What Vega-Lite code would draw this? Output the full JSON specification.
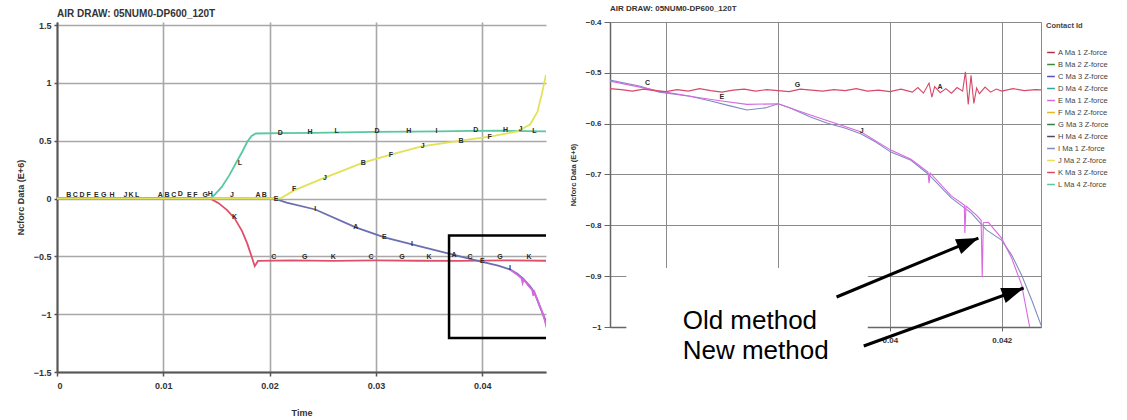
{
  "$schema": "https://vega.github.io/schema/vega-lite/v6.json",
  "background": "white",
  "padding": {"left": 16, "top": 4, "right": 0, "bottom": 0},
  "autosize": {"type": "pad"},
  "spacing": 22,
  "datasets": {
    "left": [
      {"t": 0, "v": 0, "s": "L Ma 4 Z-force"}, {"t": 0.0144, "v": 0, "s": "L Ma 4 Z-force"}, {"t": 0.0148, "v": 0.03, "s": "L Ma 4 Z-force"}, {"t": 0.0155, "v": 0.1, "s": "L Ma 4 Z-force"}, {"t": 0.0162, "v": 0.2, "s": "L Ma 4 Z-force"}, {"t": 0.0168, "v": 0.3, "s": "L Ma 4 Z-force"}, {"t": 0.0174, "v": 0.4, "s": "L Ma 4 Z-force"}, {"t": 0.0179, "v": 0.49, "s": "L Ma 4 Z-force"}, {"t": 0.0183, "v": 0.54, "s": "L Ma 4 Z-force"}, {"t": 0.0187, "v": 0.562, "s": "L Ma 4 Z-force"}, {"t": 0.021, "v": 0.566, "s": "L Ma 4 Z-force"}, {"t": 0.024, "v": 0.568, "s": "L Ma 4 Z-force"}, {"t": 0.027, "v": 0.572, "s": "L Ma 4 Z-force"}, {"t": 0.03, "v": 0.576, "s": "L Ma 4 Z-force"}, {"t": 0.033, "v": 0.578, "s": "L Ma 4 Z-force"}, {"t": 0.036, "v": 0.58, "s": "L Ma 4 Z-force"}, {"t": 0.039, "v": 0.584, "s": "L Ma 4 Z-force"}, {"t": 0.042, "v": 0.586, "s": "L Ma 4 Z-force"}, {"t": 0.044, "v": 0.582, "s": "L Ma 4 Z-force"}, {"t": 0.046, "v": 0.58, "s": "L Ma 4 Z-force"},
      {"t": 0, "v": 0, "s": "K Ma 3 Z-force"}, {"t": 0.0144, "v": 0, "s": "K Ma 3 Z-force"}, {"t": 0.0152, "v": -0.04, "s": "K Ma 3 Z-force"}, {"t": 0.016, "v": -0.1, "s": "K Ma 3 Z-force"}, {"t": 0.0167, "v": -0.17, "s": "K Ma 3 Z-force"}, {"t": 0.0174, "v": -0.28, "s": "K Ma 3 Z-force"}, {"t": 0.0179, "v": -0.39, "s": "K Ma 3 Z-force"}, {"t": 0.0183, "v": -0.5, "s": "K Ma 3 Z-force"}, {"t": 0.0186, "v": -0.585, "s": "K Ma 3 Z-force"}, {"t": 0.0189, "v": -0.54, "s": "K Ma 3 Z-force"}, {"t": 0.022, "v": -0.535, "s": "K Ma 3 Z-force"}, {"t": 0.026, "v": -0.54, "s": "K Ma 3 Z-force"}, {"t": 0.03, "v": -0.535, "s": "K Ma 3 Z-force"}, {"t": 0.034, "v": -0.538, "s": "K Ma 3 Z-force"}, {"t": 0.038, "v": -0.54, "s": "K Ma 3 Z-force"}, {"t": 0.042, "v": -0.535, "s": "K Ma 3 Z-force"}, {"t": 0.046, "v": -0.538, "s": "K Ma 3 Z-force"},
      {"t": 0, "v": 0, "s": "I Ma 1 Z-force"}, {"t": 0.0204, "v": 0, "s": "I Ma 1 Z-force"}, {"t": 0.0216, "v": -0.035, "s": "I Ma 1 Z-force"}, {"t": 0.0243, "v": -0.095, "s": "I Ma 1 Z-force"}, {"t": 0.0281, "v": -0.25, "s": "I Ma 1 Z-force"}, {"t": 0.0308, "v": -0.336, "s": "I Ma 1 Z-force"}, {"t": 0.0334, "v": -0.397, "s": "I Ma 1 Z-force"}, {"t": 0.0364, "v": -0.466, "s": "I Ma 1 Z-force"}, {"t": 0.0398, "v": -0.543, "s": "I Ma 1 Z-force"}, {"t": 0.0415, "v": -0.58, "s": "I Ma 1 Z-force"}, {"t": 0.0426, "v": -0.612, "s": "I Ma 1 Z-force"}, {"t": 0.0433, "v": -0.65, "s": "I Ma 1 Z-force"}, {"t": 0.0439, "v": -0.698, "s": "I Ma 1 Z-force"}, {"t": 0.0445, "v": -0.76, "s": "I Ma 1 Z-force"}, {"t": 0.0449, "v": -0.81, "s": "I Ma 1 Z-force"}, {"t": 0.0454, "v": -0.93, "s": "I Ma 1 Z-force"}, {"t": 0.0459, "v": -1.04, "s": "I Ma 1 Z-force"}, {"t": 0.0462, "v": -1.15, "s": "I Ma 1 Z-force"},
      {"t": 0.0426, "v": -0.615, "s": "E Ma 1 Z-force"}, {"t": 0.0433, "v": -0.66, "s": "E Ma 1 Z-force"}, {"t": 0.0437, "v": -0.69, "s": "E Ma 1 Z-force"}, {"t": 0.0438, "v": -0.73, "s": "E Ma 1 Z-force"}, {"t": 0.0439, "v": -0.7, "s": "E Ma 1 Z-force"}, {"t": 0.0444, "v": -0.76, "s": "E Ma 1 Z-force"}, {"t": 0.0447, "v": -0.79, "s": "E Ma 1 Z-force"}, {"t": 0.0448, "v": -0.84, "s": "E Ma 1 Z-force"}, {"t": 0.0449, "v": -0.81, "s": "E Ma 1 Z-force"}, {"t": 0.0453, "v": -0.9, "s": "E Ma 1 Z-force"}, {"t": 0.0456, "v": -0.97, "s": "E Ma 1 Z-force"}, {"t": 0.0459, "v": -1.06, "s": "E Ma 1 Z-force"}, {"t": 0.0462, "v": -1.17, "s": "E Ma 1 Z-force"},
      {"t": 0, "v": 0, "s": "J Ma 2 Z-force"}, {"t": 0.021, "v": 0, "s": "J Ma 2 Z-force"}, {"t": 0.0223, "v": 0.07, "s": "J Ma 2 Z-force"}, {"t": 0.0252, "v": 0.18, "s": "J Ma 2 Z-force"}, {"t": 0.0288, "v": 0.31, "s": "J Ma 2 Z-force"}, {"t": 0.0314, "v": 0.38, "s": "J Ma 2 Z-force"}, {"t": 0.0343, "v": 0.45, "s": "J Ma 2 Z-force"}, {"t": 0.038, "v": 0.5, "s": "J Ma 2 Z-force"}, {"t": 0.0407, "v": 0.535, "s": "J Ma 2 Z-force"}, {"t": 0.0433, "v": 0.58, "s": "J Ma 2 Z-force"}, {"t": 0.0445, "v": 0.64, "s": "J Ma 2 Z-force"}, {"t": 0.0452, "v": 0.75, "s": "J Ma 2 Z-force"}, {"t": 0.0456, "v": 0.9, "s": "J Ma 2 Z-force"}, {"t": 0.046, "v": 1.07, "s": "J Ma 2 Z-force"}
    ],
    "leftlab": [
      {"t": 0.0011, "v": 0.026, "c": "B"}, {"t": 0.00172, "v": 0.026, "c": "C"}, {"t": 0.00235, "v": 0.026, "c": "D"}, {"t": 0.00298, "v": 0.026, "c": "F"}, {"t": 0.0037, "v": 0.026, "c": "E"}, {"t": 0.00439, "v": 0.026, "c": "G"}, {"t": 0.00517, "v": 0.026, "c": "H"},
      {"t": 0.00643, "v": 0.026, "c": "J"}, {"t": 0.00696, "v": 0.026, "c": "K"}, {"t": 0.00753, "v": 0.026, "c": "L"},
      {"t": 0.00972, "v": 0.026, "c": "A"}, {"t": 0.01035, "v": 0.026, "c": "B"}, {"t": 0.01098, "v": 0.026, "c": "C"}, {"t": 0.0116, "v": 0.04, "c": "D"}, {"t": 0.01245, "v": 0.026, "c": "E"}, {"t": 0.01301, "v": 0.026, "c": "F"}, {"t": 0.01395, "v": 0.026, "c": "G"}, {"t": 0.01442, "v": 0.04, "c": "H"},
      {"t": 0.01646, "v": 0.026, "c": "J"}, {"t": 0.01891, "v": 0.026, "c": "A"}, {"t": 0.0195, "v": 0.026, "c": "B"}, {"t": 0.0206, "v": 0.0, "c": "E"},
      {"t": 0.0172, "v": 0.31, "c": "L"},
      {"t": 0.021, "v": 0.57, "c": "D"}, {"t": 0.0238, "v": 0.572, "c": "H"}, {"t": 0.0263, "v": 0.58, "c": "L"}, {"t": 0.0301, "v": 0.585, "c": "D"}, {"t": 0.0331, "v": 0.585, "c": "H"}, {"t": 0.0357, "v": 0.585, "c": "I"}, {"t": 0.0394, "v": 0.59, "c": "D"}, {"t": 0.0422, "v": 0.59, "c": "H"}, {"t": 0.0436, "v": 0.6, "c": "J"}, {"t": 0.0449, "v": 0.58, "c": "L"},
      {"t": 0.0223, "v": 0.085, "c": "F"}, {"t": 0.0252, "v": 0.18, "c": "J"}, {"t": 0.0288, "v": 0.31, "c": "B"}, {"t": 0.0314, "v": 0.38, "c": "F"}, {"t": 0.0344, "v": 0.45, "c": "J"}, {"t": 0.038, "v": 0.5, "c": "B"}, {"t": 0.0407, "v": 0.535, "c": "F"},
      {"t": 0.0243, "v": -0.095, "c": "I"}, {"t": 0.0281, "v": -0.25, "c": "A"}, {"t": 0.0308, "v": -0.336, "c": "E"}, {"t": 0.0334, "v": -0.397, "c": "I"}, {"t": 0.0426, "v": -0.6, "c": "I"},
      {"t": 0.0167, "v": -0.164, "c": "K"}, {"t": 0.0204, "v": -0.51, "c": "C"}, {"t": 0.0233, "v": -0.51, "c": "G"}, {"t": 0.026, "v": -0.51, "c": "K"}, {"t": 0.02954, "v": -0.51, "c": "C"}, {"t": 0.03246, "v": -0.51, "c": "G"}, {"t": 0.035, "v": -0.51, "c": "K"}, {"t": 0.03735, "v": -0.49, "c": "A"}, {"t": 0.03885, "v": -0.51, "c": "C"}, {"t": 0.04, "v": -0.54, "c": "E"}, {"t": 0.04167, "v": -0.51, "c": "G"}, {"t": 0.0444, "v": -0.51, "c": "K"}
    ],
    "leftbox": [{"t1": 0.03688, "t2": 0.05, "v1": -0.319, "v2": -1.207}],
    "right": [
      {"t": 0.03499, "v": -0.514, "s": "I Ma 1 Z-force"}, {"t": 0.035526, "v": -0.526, "s": "I Ma 1 Z-force"}, {"t": 0.035885, "v": -0.538, "s": "I Ma 1 Z-force"}, {"t": 0.036424, "v": -0.546, "s": "I Ma 1 Z-force"}, {"t": 0.036783, "v": -0.555, "s": "I Ma 1 Z-force"}, {"t": 0.037143, "v": -0.565, "s": "I Ma 1 Z-force"}, {"t": 0.037448, "v": -0.573, "s": "I Ma 1 Z-force"}, {"t": 0.037772, "v": -0.569, "s": "I Ma 1 Z-force"}, {"t": 0.038005, "v": -0.561, "s": "I Ma 1 Z-force"}, {"t": 0.038221, "v": -0.569, "s": "I Ma 1 Z-force"}, {"t": 0.03858, "v": -0.587, "s": "I Ma 1 Z-force"}, {"t": 0.038886, "v": -0.599, "s": "I Ma 1 Z-force"}, {"t": 0.039209, "v": -0.609, "s": "I Ma 1 Z-force"}, {"t": 0.039479, "v": -0.62, "s": "I Ma 1 Z-force"}, {"t": 0.039748, "v": -0.636, "s": "I Ma 1 Z-force"}, {"t": 0.040018, "v": -0.656, "s": "I Ma 1 Z-force"}, {"t": 0.040377, "v": -0.672, "s": "I Ma 1 Z-force"}, {"t": 0.040683, "v": -0.699, "s": "I Ma 1 Z-force"}, {"t": 0.041096, "v": -0.746, "s": "I Ma 1 Z-force"}, {"t": 0.041456, "v": -0.776, "s": "I Ma 1 Z-force"}, {"t": 0.041725, "v": -0.809, "s": "I Ma 1 Z-force"}, {"t": 0.041995, "v": -0.829, "s": "I Ma 1 Z-force"}, {"t": 0.042174, "v": -0.858, "s": "I Ma 1 Z-force"}, {"t": 0.042354, "v": -0.898, "s": "I Ma 1 Z-force"}, {"t": 0.042534, "v": -0.947, "s": "I Ma 1 Z-force"}, {"t": 0.042713, "v": -1.0, "s": "I Ma 1 Z-force"}, {"t": 0.0428, "v": -1.03, "s": "I Ma 1 Z-force"},
      {"t": 0.03499, "v": -0.516, "s": "E Ma 1 Z-force"}, {"t": 0.035885, "v": -0.536, "s": "E Ma 1 Z-force"}, {"t": 0.036604, "v": -0.549, "s": "E Ma 1 Z-force"}, {"t": 0.036963, "v": -0.555, "s": "E Ma 1 Z-force"}, {"t": 0.037448, "v": -0.562, "s": "E Ma 1 Z-force"}, {"t": 0.038005, "v": -0.561, "s": "E Ma 1 Z-force"}, {"t": 0.03858, "v": -0.583, "s": "E Ma 1 Z-force"}, {"t": 0.039479, "v": -0.616, "s": "E Ma 1 Z-force"}, {"t": 0.040018, "v": -0.652, "s": "E Ma 1 Z-force"}, {"t": 0.040377, "v": -0.67, "s": "E Ma 1 Z-force"}, {"t": 0.04068, "v": -0.695, "s": "E Ma 1 Z-force"}, {"t": 0.0407, "v": -0.717, "s": "E Ma 1 Z-force"}, {"t": 0.04072, "v": -0.697, "s": "E Ma 1 Z-force"}, {"t": 0.041096, "v": -0.742, "s": "E Ma 1 Z-force"}, {"t": 0.04133, "v": -0.76, "s": "E Ma 1 Z-force"}, {"t": 0.04134, "v": -0.815, "s": "E Ma 1 Z-force"}, {"t": 0.04136, "v": -0.762, "s": "E Ma 1 Z-force"}, {"t": 0.041545, "v": -0.78, "s": "E Ma 1 Z-force"}, {"t": 0.04163, "v": -0.79, "s": "E Ma 1 Z-force"}, {"t": 0.04165, "v": -0.902, "s": "E Ma 1 Z-force"}, {"t": 0.04167, "v": -0.795, "s": "E Ma 1 Z-force"}, {"t": 0.04176, "v": -0.794, "s": "E Ma 1 Z-force"}, {"t": 0.041995, "v": -0.825, "s": "E Ma 1 Z-force"}, {"t": 0.042174, "v": -0.864, "s": "E Ma 1 Z-force"}, {"t": 0.042354, "v": -0.917, "s": "E Ma 1 Z-force"}, {"t": 0.042498, "v": -1.0, "s": "E Ma 1 Z-force"}, {"t": 0.0426, "v": -1.05, "s": "E Ma 1 Z-force"},
      {"t": 0.035, "v": -0.531, "s": "K Ma 3 Z-force"}, {"t": 0.0352, "v": -0.533, "s": "K Ma 3 Z-force"}, {"t": 0.0354, "v": -0.536, "s": "K Ma 3 Z-force"}, {"t": 0.0356, "v": -0.532, "s": "K Ma 3 Z-force"}, {"t": 0.0358, "v": -0.535, "s": "K Ma 3 Z-force"}, {"t": 0.036, "v": -0.537, "s": "K Ma 3 Z-force"}, {"t": 0.0362, "v": -0.533, "s": "K Ma 3 Z-force"}, {"t": 0.0364, "v": -0.536, "s": "K Ma 3 Z-force"}, {"t": 0.0366, "v": -0.531, "s": "K Ma 3 Z-force"}, {"t": 0.0368, "v": -0.535, "s": "K Ma 3 Z-force"}, {"t": 0.037, "v": -0.538, "s": "K Ma 3 Z-force"}, {"t": 0.0372, "v": -0.534, "s": "K Ma 3 Z-force"}, {"t": 0.0374, "v": -0.532, "s": "K Ma 3 Z-force"}, {"t": 0.0376, "v": -0.536, "s": "K Ma 3 Z-force"}, {"t": 0.0378, "v": -0.533, "s": "K Ma 3 Z-force"}, {"t": 0.038, "v": -0.535, "s": "K Ma 3 Z-force"}, {"t": 0.0382, "v": -0.537, "s": "K Ma 3 Z-force"}, {"t": 0.0384, "v": -0.532, "s": "K Ma 3 Z-force"}, {"t": 0.0386, "v": -0.534, "s": "K Ma 3 Z-force"}, {"t": 0.0388, "v": -0.536, "s": "K Ma 3 Z-force"}, {"t": 0.039, "v": -0.533, "s": "K Ma 3 Z-force"}, {"t": 0.0392, "v": -0.535, "s": "K Ma 3 Z-force"}, {"t": 0.0394, "v": -0.531, "s": "K Ma 3 Z-force"}, {"t": 0.0396, "v": -0.536, "s": "K Ma 3 Z-force"}, {"t": 0.0398, "v": -0.534, "s": "K Ma 3 Z-force"}, {"t": 0.04, "v": -0.537, "s": "K Ma 3 Z-force"}, {"t": 0.0402, "v": -0.532, "s": "K Ma 3 Z-force"}, {"t": 0.0404, "v": -0.538, "s": "K Ma 3 Z-force"}, {"t": 0.0405, "v": -0.529, "s": "K Ma 3 Z-force"}, {"t": 0.0406, "v": -0.54, "s": "K Ma 3 Z-force"}, {"t": 0.0407, "v": -0.52, "s": "K Ma 3 Z-force"}, {"t": 0.04075, "v": -0.548, "s": "K Ma 3 Z-force"}, {"t": 0.0408, "v": -0.527, "s": "K Ma 3 Z-force"}, {"t": 0.0409, "v": -0.539, "s": "K Ma 3 Z-force"}, {"t": 0.041, "v": -0.531, "s": "K Ma 3 Z-force"}, {"t": 0.0411, "v": -0.54, "s": "K Ma 3 Z-force"}, {"t": 0.0412, "v": -0.529, "s": "K Ma 3 Z-force"}, {"t": 0.0413, "v": -0.536, "s": "K Ma 3 Z-force"}, {"t": 0.04135, "v": -0.498, "s": "K Ma 3 Z-force"}, {"t": 0.0414, "v": -0.562, "s": "K Ma 3 Z-force"}, {"t": 0.04145, "v": -0.505, "s": "K Ma 3 Z-force"}, {"t": 0.0415, "v": -0.56, "s": "K Ma 3 Z-force"}, {"t": 0.04155, "v": -0.53, "s": "K Ma 3 Z-force"}, {"t": 0.0416, "v": -0.541, "s": "K Ma 3 Z-force"}, {"t": 0.0417, "v": -0.528, "s": "K Ma 3 Z-force"}, {"t": 0.0418, "v": -0.538, "s": "K Ma 3 Z-force"}, {"t": 0.0419, "v": -0.532, "s": "K Ma 3 Z-force"}, {"t": 0.042, "v": -0.536, "s": "K Ma 3 Z-force"}, {"t": 0.0422, "v": -0.531, "s": "K Ma 3 Z-force"}, {"t": 0.0424, "v": -0.535, "s": "K Ma 3 Z-force"}, {"t": 0.0426, "v": -0.533, "s": "K Ma 3 Z-force"}, {"t": 0.0428, "v": -0.534, "s": "K Ma 3 Z-force"}
    ],
    "rightlab": [
      {"t": 0.03567, "v": -0.52, "c": "C"}, {"t": 0.037, "v": -0.548, "c": "E"}, {"t": 0.038347, "v": -0.524, "c": "G"}, {"t": 0.040898, "v": -0.528, "c": "A"}, {"t": 0.039497, "v": -0.615, "c": "J"}
    ],
    "box": [{"t1": 0.035292, "t2": 0.039605, "v1": -0.884, "v2": -1.09}],
    "notes": [
      {"t": 0.036298, "v": -1.004, "label": "Old method\nNew method"}
    ],
    "arrows": [
      {"k": "old", "t1": 0.039048, "v1": -0.941, "t2": 0.041581, "v2": -0.825},
      {"k": "new", "t1": 0.039533, "v1": -1.0374, "t2": 0.04239, "v2": -0.9233}
    ]
  },
  "resolve": {"scale": {"color": "independent"}, "legend": {"color": "independent"}},
  "hconcat": [
    {
      "width": 489,
      "height": 350,
      "view": {"stroke": null},
      "title": {"text": "AIR DRAW: 05NUM0-DP600_120T", "anchor": "start", "frame": "group", "fontSize": 10, "fontWeight": "bold", "color": "#333333", "offset": 2, "font": "Liberation Sans"},
      "layer": [
        {
          "data": {"name": "left"},
          "mark": {"type": "line", "strokeWidth": 1.8, "clip": true},
          "encoding": {
            "x": {"field": "t", "type": "quantitative", "scale": {"domain": [0, 0.046], "nice": false, "zero": false},
              "axis": {"values": [0, 0.01, 0.02, 0.03, 0.04], "format": "~g", "title": "Time", "titleFontSize": 9, "titleFontWeight": "bold", "titleColor": "#333333", "titlePadding": 18, "labelFontSize": 9, "labelFontWeight": "bold", "labelColor": "#333333", "labelPadding": 5, "grid": true, "gridColor": "#a8a8a8", "gridWidth": 1.6, "domainColor": "#555555", "domainWidth": 2, "tickColor": "#555555", "tickSize": 4, "tickWidth": 1.5}},
            "y": {"field": "v", "type": "quantitative", "scale": {"domain": [-1.5, 1.526], "nice": false, "zero": false},
              "axis": {"values": [-1.5, -1, -0.5, 0, 0.5, 1, 1.5], "format": "~g", "title": "Ncforc Data (E+6)", "titleFontSize": 9, "titleFontWeight": "bold", "titleColor": "#333333", "titlePadding": 8, "labelFontSize": 9, "labelFontWeight": "bold", "labelColor": "#333333", "labelPadding": 3, "grid": true, "gridColor": "#a8a8a8", "gridWidth": 1.6, "domainColor": "#555555", "domainWidth": 2, "tickColor": "#555555", "tickSize": 3, "tickWidth": 1.5}},
            "color": {"field": "s", "type": "nominal",
              "scale": {"domain": ["A Ma 1 Z-force", "B Ma 2 Z-force", "C Ma 3 Z-force", "D Ma 4 Z-force", "E Ma 1 Z-force", "F Ma 2 Z-force", "G Ma 3 Z-force", "H Ma 4 Z-force", "I Ma 1 Z-force", "J Ma 2 Z-force", "K Ma 3 Z-force", "L Ma 4 Z-force"],
                "range": ["#b0304a", "#3a8a3a", "#5a4fc0", "#2aa6a6", "#d868e0", "#e0b820", "#2f7f4f", "#4a4a66", "#6b6fb0", "#e2e258", "#e04f6a", "#58c8a0"]},
              "legend": null}
          }
        },
        {
          "data": {"name": "leftlab"},
          "mark": {"type": "text", "fontSize": 7, "fontWeight": "bold", "color": "#2a2a2a", "font": "Liberation Sans"},
          "encoding": {
            "x": {"field": "t", "type": "quantitative"},
            "y": {"field": "v", "type": "quantitative"},
            "text": {"field": "c"}
          }
        },
        {
          "data": {"name": "leftbox"},
          "mark": {"type": "rect", "fill": null, "stroke": "black", "strokeWidth": 2.5, "clip": true},
          "encoding": {
            "x": {"field": "t1", "type": "quantitative"},
            "x2": {"field": "t2"},
            "y": {"field": "v1", "type": "quantitative"},
            "y2": {"field": "v2"}
          }
        }
      ]
    },
    {
      "width": 431,
      "height": 305,
      "view": {"stroke": "#8a8a8a", "strokeWidth": 1},
      "title": {"text": "AIR DRAW: 05NUM0-DP600_120T", "anchor": "start", "frame": "group", "fontSize": 8, "fontWeight": "bold", "color": "#333333", "offset": 5, "font": "Liberation Sans"},
      "layer": [
        {
          "data": {"name": "right"},
          "mark": {"type": "line", "strokeWidth": 1.1, "clip": true},
          "encoding": {
            "x": {"field": "t", "type": "quantitative", "scale": {"domain": [0.035, 0.0427], "nice": false, "zero": false},
              "axis": {"values": [0.036, 0.038, 0.04, 0.042], "format": "~g", "labelExpr": "datum.value < 0.039 ? '' : datum.label", "title": null, "labelFontSize": 8, "labelFontWeight": "bold", "labelColor": "#333333", "labelPadding": 5, "grid": true, "gridColor": "#8a8a8a", "gridWidth": 1, "domainColor": "#666666", "domainWidth": 1.5, "tickColor": "#666666", "tickSize": 4}},
            "y": {"field": "v", "type": "quantitative", "scale": {"domain": [-1, -0.4], "nice": false, "zero": false},
              "axis": {"values": [-1, -0.9, -0.8, -0.7, -0.6, -0.5, -0.4], "format": "~g", "title": "Ncforc Data (E+6)", "titleFontSize": 7.5, "titleFontWeight": "bold", "titleColor": "#333333", "titlePadding": 8, "labelFontSize": 8, "labelFontWeight": "bold", "labelColor": "#333333", "labelPadding": 3, "grid": true, "gridColor": "#8a8a8a", "gridWidth": 1, "domainColor": "#666666", "domainWidth": 1.5, "tickColor": "#666666", "tickSize": 6}},
            "color": {"field": "s", "type": "nominal",
              "scale": {"domain": ["A Ma 1 Z-force", "B Ma 2 Z-force", "C Ma 3 Z-force", "D Ma 4 Z-force", "E Ma 1 Z-force", "F Ma 2 Z-force", "G Ma 3 Z-force", "H Ma 4 Z-force", "I Ma 1 Z-force", "J Ma 2 Z-force", "K Ma 3 Z-force", "L Ma 4 Z-force"],
                "range": ["#b0304a", "#3a8a3a", "#5a4fc0", "#2aa6a6", "#d868e0", "#e0b820", "#2f7f4f", "#4a4a66", "#7f8cc0", "#e2e258", "#d84868", "#58c8a0"]},
              "legend": {"title": "Contact Id", "orient": "right", "offset": 5, "titleFontSize": 7.5, "titleFontWeight": "bold", "titleColor": "#444444", "titlePadding": 18, "labelFontSize": 7.5, "labelColor": "#444444", "labelFont": "Liberation Sans", "titleFont": "Liberation Sans", "symbolType": "stroke", "symbolSize": 60, "symbolStrokeWidth": 1.5, "rowPadding": 3, "labelOffset": 2}}
          }
        },
        {
          "data": {"name": "rightlab"},
          "mark": {"type": "text", "fontSize": 7, "fontWeight": "bold", "color": "#2a2a2a", "font": "Liberation Sans"},
          "encoding": {
            "x": {"field": "t", "type": "quantitative"},
            "y": {"field": "v", "type": "quantitative"},
            "text": {"field": "c"}
          }
        },
        {
          "data": {"name": "box"},
          "mark": {"type": "rect", "fill": "white", "stroke": null, "clip": false},
          "encoding": {
            "x": {"field": "t1", "type": "quantitative"},
            "x2": {"field": "t2"},
            "y": {"field": "v1", "type": "quantitative"},
            "y2": {"field": "v2"}
          }
        },
        {
          "data": {"name": "notes"},
          "mark": {"type": "text", "fontSize": 26, "font": "Liberation Sans", "color": "black", "align": "left", "baseline": "alphabetic", "lineBreak": "\n", "lineHeight": 30, "clip": false},
          "encoding": {
            "x": {"field": "t", "type": "quantitative"},
            "y": {"field": "v", "type": "quantitative"},
            "text": {"field": "label"}
          }
        },
        {
          "data": {"name": "arrows"},
          "mark": {"type": "rule", "color": "black", "strokeWidth": 3, "clip": false},
          "encoding": {
            "x": {"field": "t1", "type": "quantitative"},
            "y": {"field": "v1", "type": "quantitative"},
            "x2": {"field": "t2"},
            "y2": {"field": "v2"}
          }
        },
        {
          "data": {"name": "arrows"},
          "transform": [{"filter": "datum.k === 'old'"}],
          "mark": {"type": "point", "shape": "M0,0L-0.8,2.2L0.8,2.2Z", "filled": true, "color": "black", "opacity": 1, "size": 400, "angle": 67.3, "clip": false},
          "encoding": {
            "x": {"field": "t2", "type": "quantitative"},
            "y": {"field": "v2", "type": "quantitative"}
          }
        },
        {
          "data": {"name": "arrows"},
          "transform": [{"filter": "datum.k === 'new'"}],
          "mark": {"type": "point", "shape": "M0,0L-0.8,2.2L0.8,2.2Z", "filled": true, "color": "black", "opacity": 1, "size": 400, "angle": 70, "clip": false},
          "encoding": {
            "x": {"field": "t2", "type": "quantitative"},
            "y": {"field": "v2", "type": "quantitative"}
          }
        }
      ]
    }
  ]
}
